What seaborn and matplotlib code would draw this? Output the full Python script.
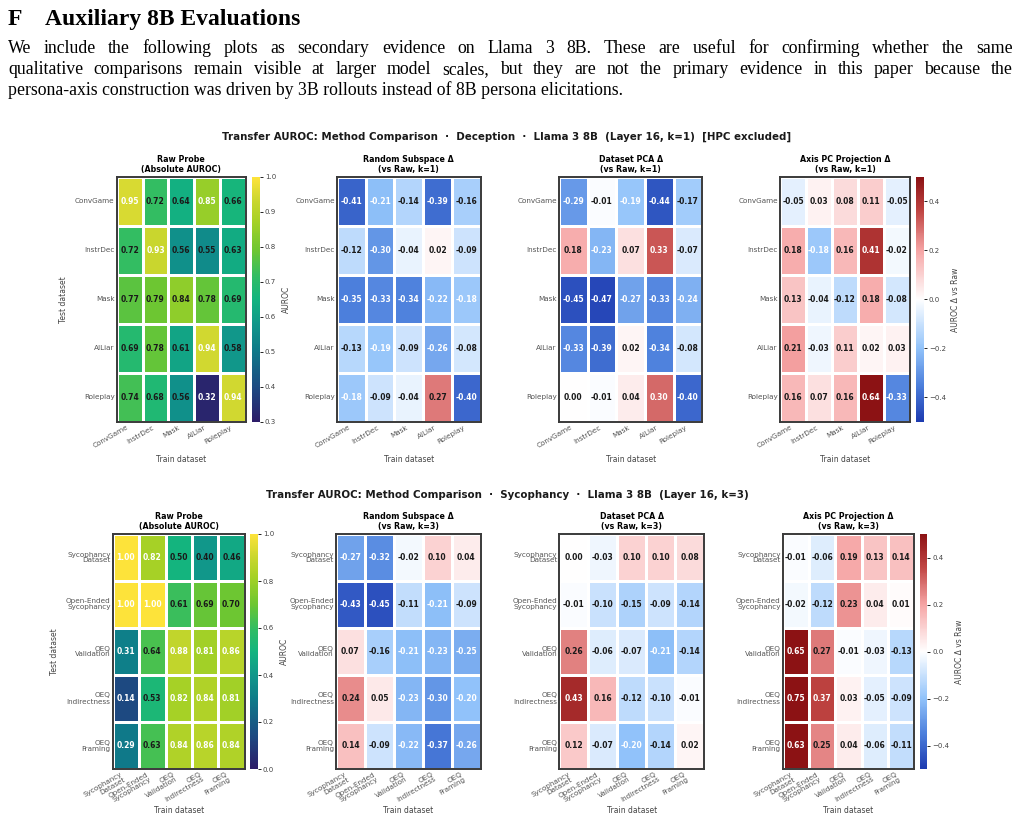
import numpy as np
import matplotlib
matplotlib.use("Agg")
import matplotlib.pyplot as plt
import seaborn as sns
import pandas as pd
from matplotlib.colors import LinearSegmentedColormap

# ---- data ----
dec_labels = ["ConvGame", "InstrDec", "Mask", "AILiar", "Roleplay"]
dec_raw = [[0.95, 0.72, 0.64, 0.85, 0.66],
           [0.72, 0.93, 0.56, 0.55, 0.63],
           [0.77, 0.79, 0.84, 0.78, 0.69],
           [0.69, 0.78, 0.61, 0.94, 0.58],
           [0.74, 0.68, 0.56, 0.32, 0.94]]
dec_random = [[-0.41, -0.21, -0.14, -0.39, -0.16],
              [-0.12, -0.30, -0.04, 0.02, -0.09],
              [-0.35, -0.33, -0.34, -0.22, -0.18],
              [-0.13, -0.19, -0.09, -0.26, -0.08],
              [-0.18, -0.09, -0.04, 0.27, -0.40]]
dec_pca = [[-0.29, -0.01, -0.19, -0.44, -0.17],
           [0.18, -0.23, 0.07, 0.33, -0.07],
           [-0.45, -0.47, -0.27, -0.33, -0.24],
           [-0.33, -0.39, 0.02, -0.34, -0.08],
           [0.00, -0.01, 0.04, 0.30, -0.40]]
dec_axis = [[-0.05, 0.03, 0.08, 0.11, -0.05],
            [0.18, -0.18, 0.16, 0.41, -0.02],
            [0.13, -0.04, -0.12, 0.18, -0.08],
            [0.21, -0.03, 0.11, 0.02, 0.03],
            [0.16, 0.07, 0.16, 0.64, -0.33]]

syc_labels = ["Sycophancy\nDataset", "Open-Ended\nSycophancy", "OEQ\nValidation",
              "OEQ\nIndirectness", "OEQ\nFraming"]
syc_raw = [[1.00, 0.82, 0.50, 0.40, 0.46],
           [1.00, 1.00, 0.61, 0.69, 0.70],
           [0.31, 0.64, 0.88, 0.81, 0.86],
           [0.14, 0.53, 0.82, 0.84, 0.81],
           [0.29, 0.63, 0.84, 0.86, 0.84]]
syc_random = [[-0.27, -0.32, -0.02, 0.10, 0.04],
              [-0.43, -0.45, -0.11, -0.21, -0.09],
              [0.07, -0.16, -0.21, -0.23, -0.25],
              [0.24, 0.05, -0.23, -0.30, -0.20],
              [0.14, -0.09, -0.22, -0.37, -0.26]]
syc_pca = [[0.00, -0.03, 0.10, 0.10, 0.08],
           [-0.01, -0.10, -0.15, -0.09, -0.14],
           [0.26, -0.06, -0.07, -0.21, -0.14],
           [0.43, 0.16, -0.12, -0.10, -0.01],
           [0.12, -0.07, -0.20, -0.14, 0.02]]
syc_axis = [[-0.01, -0.06, 0.19, 0.13, 0.14],
            [-0.02, -0.12, 0.23, 0.04, 0.01],
            [0.65, 0.27, -0.01, -0.03, -0.13],
            [0.75, 0.37, 0.03, -0.05, -0.09],
            [0.63, 0.25, 0.04, -0.06, -0.11]]

heading = "Auxiliary 8B Evaluations"
para = ["We include the following plots as secondary evidence on Llama 3 8B. These are useful for confirming whether the same",
        "qualitative comparisons remain visible at larger model scales, but they are not the primary evidence in this paper because the",
        "persona-axis construction was driven by 3B rollouts instead of 8B persona elicitations."]

W, H = 1020, 819
fig = plt.figure(figsize=(W / 100, H / 100), dpi=100)
fig.patch.set_facecolor("white")

# viridis as it appears in the page render
raw_cmap = LinearSegmentedColormap.from_list(
    "rawv", [(0.0, "#2c1c68"), (0.14, "#1d4a82"), (0.30, "#0e7c89"), (0.40, "#11978a"),
             (0.50, "#13b47f"), (0.60, "#33bd62"), (0.70, "#6cc632"), (0.82, "#a6d126"),
             (0.90, "#c8d62e"), (1.0, "#fde33a")])
delta_cmap = LinearSegmentedColormap.from_list(
    "delta", [(0.0, "#1d3bb0"), (0.15, "#4c7fdc"), (0.3, "#92c3fa"), (0.5, "#ffffff"),
              (0.7, "#f6a5a5"), (0.86, "#c04543"), (1.0, "#8c1214")])


def px(x0, x1, top, bottom):
    return [x0 / W, 1 - bottom / H, (x1 - x0) / W, (bottom - top) / H]


def panel(ax, data, labels, title, raw, vmin, vmax, cax=None, first=False, xpad=4):
    df = pd.DataFrame(data, index=labels, columns=labels)
    cmap = raw_cmap if raw else delta_cmap
    sns.heatmap(df, ax=ax, cmap=cmap, vmin=vmin, vmax=vmax, annot=True, fmt=".2f",
                annot_kws={"fontsize": 5.5, "fontweight": "bold"},
                linewidths=1.0, linecolor="white",
                cbar=cax is not None, cbar_ax=cax)
    vals = np.array(data).ravel()
    for t, v in zip(ax.texts, vals):
        if raw:
            n = (v - vmin) / (vmax - vmin)
            white = n >= 0.78 or n <= 0.32
        else:
            white = v <= -0.18 or v >= 0.30
        t.set_color("white" if white else "#1a1a1a")
    for s in ax.spines.values():
        s.set_visible(True)
        s.set_color("#3a3a3a")
        s.set_linewidth(1.4)
    ax.tick_params(length=0, labelsize=5.2, labelcolor="#555555", pad=1.5)
    ax.set_xticklabels(labels, rotation=30, ha="right", fontsize=5.2, linespacing=0.95)
    ax.set_yticklabels(labels, rotation=0, fontsize=5.2, linespacing=1.0)
    ax.set_title(title, fontsize=5.7, fontweight="bold", pad=3.5, linespacing=1.1)
    ax.set_xlabel("Train dataset", fontsize=5.5, color="#444444", labelpad=xpad)
    ax.set_ylabel("Test dataset" if first else "", fontsize=5.5, color="#444444", labelpad=5)
    if cax is not None:
        cax.tick_params(labelsize=5, labelcolor="#444444", length=2, width=0.6, pad=1.5)
        cax.set_ylabel("AUROC" if raw else "AUROC Δ vs Raw", fontsize=5.5, color="#444444",
                       labelpad=4)


rows = [
    dict(labels=dec_labels, mats=[dec_raw, dec_random, dec_pca, dec_axis], k=1, top=177, bottom=422,
         xs=[(116.7, 246), (337, 480.7), (559, 702.3), (780, 910)], cb=[(251.7, 260), (916, 924)],
         vr=(0.3, 1.0), rticks=np.arange(0.3, 1.01, 0.1), ty=137, xpad=4,
         sup="Transfer AUROC: Method Comparison  ·  Deception  ·  Llama 3 8B  (Layer 16, k=1)  [HPC excluded]"),
    dict(labels=syc_labels, mats=[syc_raw, syc_random, syc_pca, syc_axis], k=3, top=534, bottom=769,
         xs=[(112.7, 244.7), (336, 480.7), (559.3, 704), (782.7, 914.3)], cb=[(250, 258), (920, 927.3)],
         vr=(0.0, 1.0), rticks=np.arange(0.0, 1.01, 0.2), ty=495, xpad=2,
         sup="Transfer AUROC: Method Comparison  ·  Sycophancy  ·  Llama 3 8B  (Layer 16, k=3)"),
]

for r in rows:
    k = r["k"]
    titles = ["Raw Probe\n(Absolute AUROC)", f"Random Subspace Δ\n(vs Raw, k={k})",
              f"Dataset PCA Δ\n(vs Raw, k={k})", f"Axis PC Projection Δ\n(vs Raw, k={k})"]
    for i in range(4):
        x0, x1 = r["xs"][i]
        ax = fig.add_axes(px(x0, x1, r["top"], r["bottom"]))
        cax = None
        if i == 0:
            cax = fig.add_axes(px(r["cb"][0][0], r["cb"][0][1], r["top"], r["bottom"]))
        elif i == 3:
            cax = fig.add_axes(px(r["cb"][1][0], r["cb"][1][1], r["top"], r["bottom"]))
        if i == 0:
            panel(ax, r["mats"][i], r["labels"], titles[i], True, *r["vr"], cax=cax, first=True,
                  xpad=r["xpad"])
            cax.set_yticks(r["rticks"])
        else:
            panel(ax, r["mats"][i], r["labels"], titles[i], False, -0.5, 0.5, cax=cax,
                  xpad=r["xpad"])
            if cax is not None:
                cax.set_yticks([-0.4, -0.2, 0.0, 0.2, 0.4])
    fig.text(507 / W, 1 - r["ty"] / H, r["sup"], ha="center", va="center",
             fontsize=7.4, fontweight="bold", color="#1a1a1a")

# ---- page text ----
serif = ["Liberation Serif", "DejaVu Serif"]
fig.text(8 / W, 1 - 25 / H, "F", fontsize=17, fontweight="bold", family=serif, va="baseline")
fig.text(45 / W, 1 - 25 / H, heading, fontsize=17, fontweight="bold", family=serif, va="baseline")

renderer = fig.canvas.get_renderer()
baselines = [53, 74, 95]
for j, line in enumerate(para):
    y = 1 - baselines[j] / H
    if j < 2:
        words = line.split()
        ts = [fig.text(0, y, w, fontsize=12.8, family=serif, va="baseline") for w in words]
        widths = [t.get_window_extent(renderer).width for t in ts]
        gap = (1013 - 8 - sum(widths)) / (len(words) - 1)
        x = 8
        for t, w in zip(ts, widths):
            t.set_x(x / W)
            x += w + gap
    else:
        fig.text(8 / W, y, line, fontsize=12.8, family=serif, va="baseline")

fig.savefig("out.png", dpi=100, facecolor="white")
